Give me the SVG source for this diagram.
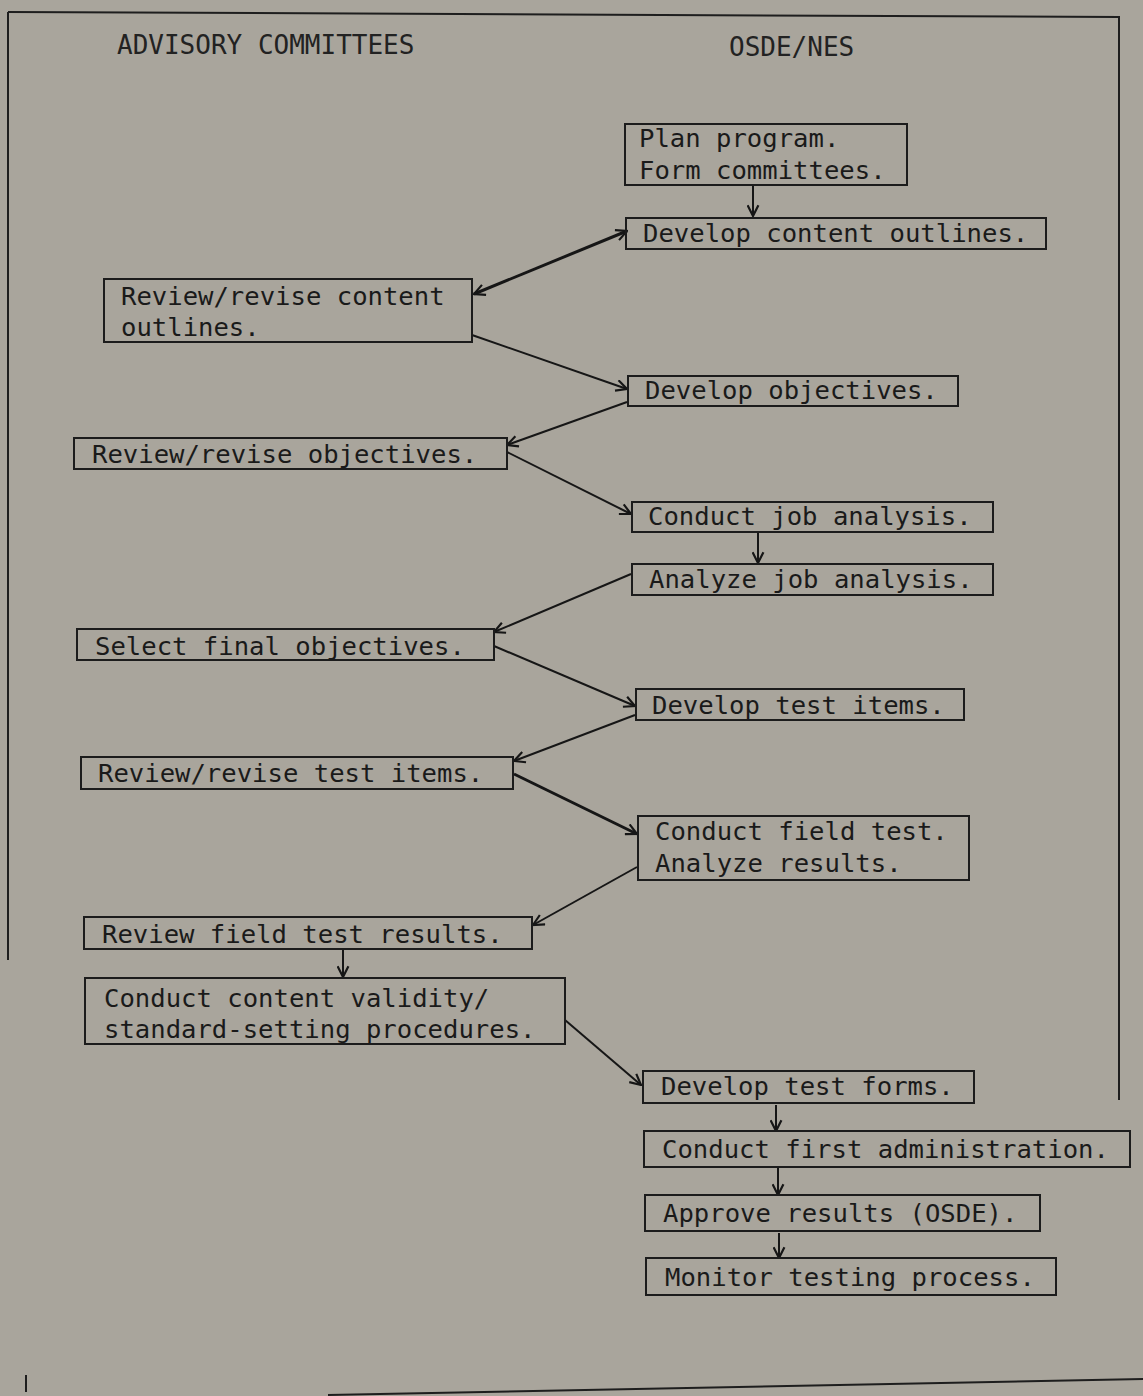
<svg xmlns="http://www.w3.org/2000/svg" width="1143" height="1396" viewBox="0 0 1143 1396">
<style>
.bg{fill:#a9a59c}
.frame{fill:none;stroke:#1e1e1e;stroke-width:2}
.box{fill:none;stroke:#1c1c1c;stroke-width:2}
.t{font-family:"DejaVu Sans Mono","Liberation Mono",monospace;font-size:25.6px;fill:#1a1a1a}
.h{font-family:"DejaVu Sans Mono","Liberation Mono",monospace;font-size:26px;fill:#222}
.c{fill:none;stroke:#161616;stroke-width:2}
.thick{stroke-width:3}
</style>
<defs>
<marker id="ah" viewBox="0 0 12 12" refX="11" refY="6" markerWidth="13" markerHeight="13" markerUnits="userSpaceOnUse" orient="auto-start-reverse">
<path d="M1,1 L11,6 L1,11" fill="none" stroke="#161616" stroke-width="2"/>
</marker>
</defs>
<rect class="bg" x="0" y="0" width="1143" height="1396"/>
<g id="frame">
<path class="frame" d="M8,12 L1119,17 L1119,1100"/>
<path class="frame" d="M8,12 L8,960"/>
<path class="frame" d="M328,1395 L1143,1379"/>
<path class="frame" stroke-width="1" d="M26,1375 L26,1392"/>
</g>
<g id="headers">
<text class="h" x="117" y="54">ADVISORY COMMITTEES</text>
<text class="h" x="729" y="56">OSDE/NES</text>
</g>
<g id="connectors">
<path class="c" d="M753,186 L753,216" marker-end="url(#ah)"/>
<path class="c thick" d="M627,231 L474,294" marker-start="url(#ah)" marker-end="url(#ah)"/>
<path class="c" d="M472,335 L627,389" marker-end="url(#ah)"/>
<path class="c" d="M627,402 L507,445" marker-end="url(#ah)"/>
<path class="c" d="M507,452 L631,514" marker-end="url(#ah)"/>
<path class="c" d="M758,532 L758,563" marker-end="url(#ah)"/>
<path class="c" d="M631,574 L494,632" marker-end="url(#ah)"/>
<path class="c" d="M494,646 L635,706" marker-end="url(#ah)"/>
<path class="c" d="M635,715 L514,761" marker-end="url(#ah)"/>
<path class="c thick" d="M514,774 L637,834" marker-end="url(#ah)"/>
<path class="c" d="M637,867 L533,925" marker-end="url(#ah)"/>
<path class="c" d="M343,950 L343,977" marker-end="url(#ah)"/>
<path class="c" d="M565,1020 L641,1085" marker-end="url(#ah)"/>
<path class="c" d="M776,1105 L776,1131" marker-end="url(#ah)"/>
<path class="c" d="M778,1168 L778,1195" marker-end="url(#ah)"/>
<path class="c" d="M779,1233 L779,1258" marker-end="url(#ah)"/>
</g>
<g id="n1"><rect class="box" x="625" y="124" width="282" height="61"/>
<text class="t" x="639" y="147">Plan program.</text><text class="t" x="639" y="179">Form committees.</text></g>
<g id="n2"><rect class="box" x="626" y="218" width="420" height="31"/>
<text class="t" x="643" y="242">Develop content outlines.</text></g>
<g id="n3"><rect class="box" x="104" y="279" width="368" height="63"/>
<text class="t" x="121" y="305">Review/revise content</text><text class="t" x="121" y="336">outlines.</text></g>
<g id="n4"><rect class="box" x="628" y="376" width="330" height="30"/>
<text class="t" x="645" y="399">Develop objectives.</text></g>
<g id="n5"><rect class="box" x="74" y="438" width="433" height="31"/>
<text class="t" x="92" y="463">Review/revise objectives.</text></g>
<g id="n6"><rect class="box" x="632" y="502" width="361" height="30"/>
<text class="t" x="648" y="525">Conduct job analysis.</text></g>
<g id="n7"><rect class="box" x="632" y="564" width="361" height="31"/>
<text class="t" x="649" y="588">Analyze job analysis.</text></g>
<g id="n8"><rect class="box" x="77" y="629" width="417" height="31"/>
<text class="t" x="95" y="655">Select final objectives.</text></g>
<g id="n9"><rect class="box" x="636" y="689" width="328" height="31"/>
<text class="t" x="652" y="714">Develop test items.</text></g>
<g id="n10"><rect class="box" x="81" y="757" width="432" height="32"/>
<text class="t" x="98" y="782">Review/revise test items.</text></g>
<g id="n11"><rect class="box" x="638" y="816" width="331" height="64"/>
<text class="t" x="655" y="840">Conduct field test.</text><text class="t" x="655" y="872">Analyze results.</text></g>
<g id="n12"><rect class="box" x="84" y="917" width="448" height="32"/>
<text class="t" x="102" y="943">Review field test results.</text></g>
<g id="n13"><rect class="box" x="85" y="978" width="480" height="66"/>
<text class="t" x="104" y="1007">Conduct content validity/</text><text class="t" x="104" y="1038">standard-setting procedures.</text></g>
<g id="n14"><rect class="box" x="643" y="1071" width="331" height="32"/>
<text class="t" x="661" y="1095">Develop test forms.</text></g>
<g id="n15"><rect class="box" x="644" y="1131" width="486" height="36"/>
<text class="t" x="662" y="1158">Conduct first administration.</text></g>
<g id="n16"><rect class="box" x="645" y="1195" width="395" height="36"/>
<text class="t" x="663" y="1222">Approve results (OSDE).</text></g>
<g id="n17"><rect class="box" x="646" y="1258" width="410" height="37"/>
<text class="t" x="665" y="1286">Monitor testing process.</text></g>
</svg>
